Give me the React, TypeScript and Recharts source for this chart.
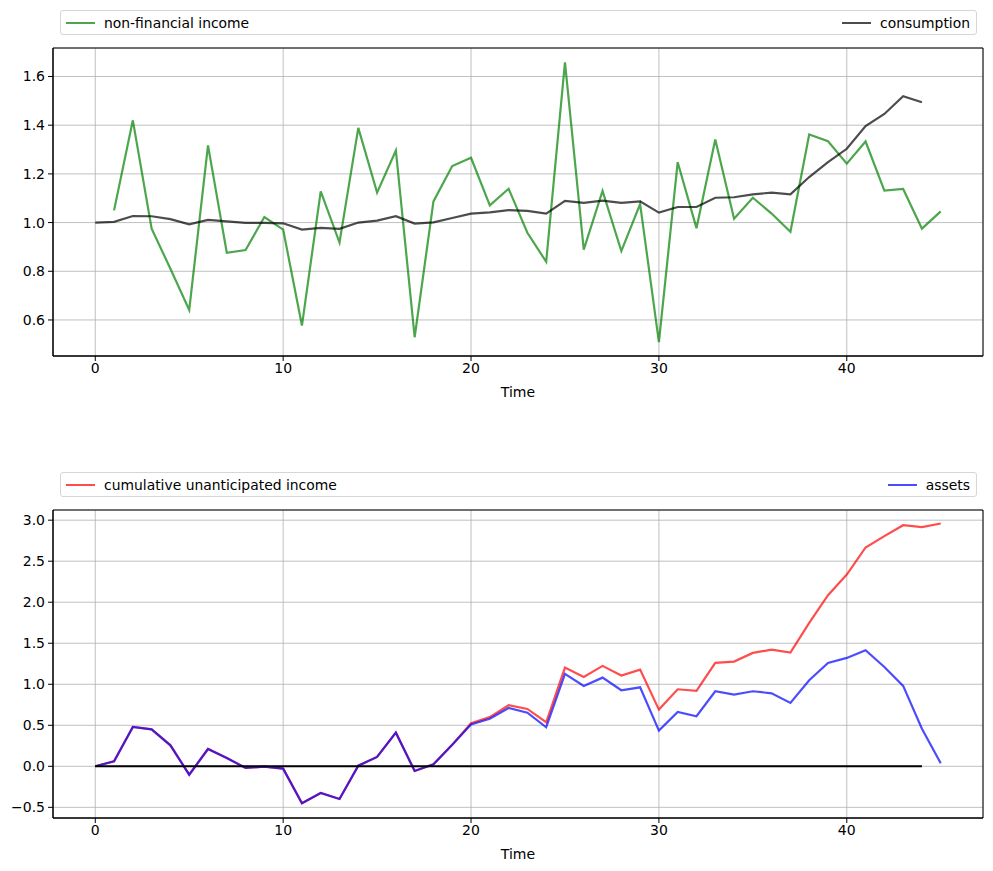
import { LineChart, Line, XAxis, YAxis, CartesianGrid, ReferenceArea } from "recharts";

const time = [
  0, 1, 2, 3, 4, 5, 6, 7, 8, 9, 10, 11, 12, 13, 14, 15, 16, 17, 18, 19, 20, 21, 22,
  23, 24, 25, 26, 27, 28, 29, 30, 31, 32, 33, 34, 35, 36, 37, 38, 39, 40, 41, 42, 43,
  44, 45,
];

const nonFinancialIncome = [
  null, 1.05, 1.42, 0.975, 0.81, 0.641, 1.317, 0.876, 0.887, 1.023, 0.971, 0.577,
  1.128, 0.918, 1.389, 1.123, 1.296, 0.529, 1.087, 1.232, 1.266, 1.071, 1.139, 0.958,
  0.839, 1.658, 0.889, 1.13, 0.883, 1.076, 0.509, 1.248, 0.977, 1.341, 1.016, 1.102,
  1.037, 0.962, 1.362, 1.334, 1.242, 1.333, 1.131, 1.138, 0.975, 1.046,
];

const consumption = [
  1.0, 1.003, 1.027, 1.026, 1.014, 0.993, 1.011, 1.005, 0.999, 0.999, 0.997, 0.971,
  0.978, 0.974, 1.0, 1.008, 1.026, 0.996, 1.001, 1.019, 1.037, 1.042, 1.051, 1.048,
  1.037, 1.089, 1.081, 1.09, 1.081, 1.087, 1.041, 1.064, 1.064, 1.102, 1.104, 1.116,
  1.123, 1.116, 1.187, 1.248, 1.303, 1.396, 1.446, 1.519, 1.494, null,
];

const cumulativeIncome = [
  0, 0.061, 0.48, 0.451, 0.256, -0.102, 0.211, 0.102, -0.02, -0.005, -0.028, -0.451,
  -0.325, -0.398, 0.008, 0.114, 0.41, -0.057, 0.024, 0.264, 0.524, 0.6, 0.744, 0.699,
  0.537, 1.203, 1.089, 1.224, 1.106, 1.179, 0.691, 0.939, 0.919, 1.26, 1.276, 1.382,
  1.423, 1.386, 1.748, 2.085, 2.337, 2.667, 2.805, 2.939, 2.915, 2.959,
];

const assets = [
  0, 0.061, 0.48, 0.451, 0.256, -0.102, 0.211, 0.102, -0.02, -0.005, -0.028, -0.451,
  -0.325, -0.398, 0.008, 0.114, 0.41, -0.057, 0.024, 0.264, 0.51, 0.58, 0.711, 0.654,
  0.476, 1.126, 0.98, 1.081, 0.927, 0.963, 0.435, 0.663, 0.61, 0.915, 0.874, 0.915,
  0.89, 0.772, 1.049, 1.26, 1.321, 1.415, 1.211, 0.98, 0.459, 0.037,
];

const zeroLine = [
  0, 0, 0, 0, 0, 0, 0, 0, 0, 0, 0, 0, 0, 0, 0, 0, 0, 0, 0, 0, 0, 0, 0, 0, 0, 0, 0, 0,
  0, 0, 0, 0, 0, 0, 0, 0, 0, 0, 0, 0, 0, 0, 0, 0, 0, null,
];

const xTicks = [0, 10, 20, 30, 40];
const xDomain: [number, number] = [-2.25, 47.25];
const topYTicks = [0.6, 0.8, 1.0, 1.2, 1.4, 1.6];
const bottomYTicks = [-0.5, 0, 0.5, 1.0, 1.5, 2.0, 2.5, 3.0];

const topData = time.map((t, i) => ({
  t,
  income: nonFinancialIncome[i],
  consumption: consumption[i],
}));

const bottomData = time.map((t, i) => ({
  t,
  cumulative: cumulativeIncome[i],
  assets: assets[i],
  zero: zeroLine[i],
}));

const FONT = "'DejaVu Sans', sans-serif";
const tickStyle = { fill: "#000", fontSize: 14, fontFamily: FONT };
const fmt = (v: number) => v.toFixed(1).replace("-", "\u2212");

type Item = { label: string; color: string };

const LegendBox = ({ left, right, top }: { left: Item; right: Item; top: number }) => {
  const entry = (it: Item) => (
    <div style={{ display: "flex", alignItems: "center" }}>
      <span
        style={{
          width: 29,
          height: 2,
          background: it.color,
          opacity: 0.7,
          marginRight: 9,
        }}
      />
      <span>{it.label}</span>
    </div>
  );
  return (
    <div
      style={{
        position: "absolute",
        left: 60,
        top,
        width: 917,
        height: 25,
        boxSizing: "border-box",
        border: "1px solid #d6d6d6",
        borderRadius: 3,
        background: "#fff",
        display: "flex",
        justifyContent: "space-between",
        alignItems: "center",
        padding: "0 6px 0 5px",
        fontFamily: FONT,
        fontSize: 13.9,
        color: "#000",
      }}
    >
      {entry(left)}
      {entry(right)}
    </div>
  );
};

const Frame = ({
  data,
  domain,
  yTicks,
  children,
}: {
  data: any[];
  domain: [number, number];
  yTicks: number[];
  children: React.ReactNode;
}) => (
  <LineChart
    width={993}
    height={400}
    data={data}
    margin={{ top: 48, right: 10, left: 3, bottom: 0 }}
  >
    <CartesianGrid stroke="#b0b0b0" strokeWidth={0.8} />
    <XAxis
      dataKey="t"
      type="number"
      domain={xDomain}
      ticks={xTicks}
      allowDataOverflow
      height={44}
      tickSize={5}
      tickMargin={2}
      stroke="#000"
      tick={tickStyle}
      label={{ value: "Time", position: "insideBottom", offset: 3, style: tickStyle }}
    />
    <YAxis
      type="number"
      domain={domain}
      ticks={yTicks}
      allowDataOverflow
      width={50}
      tickSize={5}
      tickMargin={3}
      stroke="#000"
      tick={tickStyle}
      tickFormatter={fmt}
    />
    {children}
    {/* box round the plot, like matplotlib's four spines */}
    <ReferenceArea
      x1={xDomain[0]}
      x2={xDomain[1]}
      y1={domain[0]}
      y2={domain[1]}
      fill="none"
      fillOpacity={0}
      stroke="#000"
      strokeWidth={1}
      ifOverflow="visible"
    />
  </LineChart>
);

const App = () => {
  return (
    <div
      style={{
        position: "absolute",
        left: 0,
        top: 0,
        width: 993,
        height: 871,
        background: "#fff",
      }}
    >
      <div style={{ position: "absolute", left: 0, top: 0 }}>
        <Frame data={topData} domain={[0.452, 1.717]} yTicks={topYTicks}>
          <Line
            dataKey="income"
            stroke="#008000"
            strokeOpacity={0.7}
            strokeWidth={2.2}
            dot={false}
            isAnimationActive={false}
          />
          <Line
            dataKey="consumption"
            stroke="#000000"
            strokeOpacity={0.7}
            strokeWidth={2.2}
            dot={false}
            isAnimationActive={false}
          />
        </Frame>
      </div>
      <LegendBox
        top={10}
        left={{ label: "non-financial income", color: "#008000" }}
        right={{ label: "consumption", color: "#000000" }}
      />
      <div style={{ position: "absolute", left: 0, top: 462 }}>
        <Frame data={bottomData} domain={[-0.63, 3.124]} yTicks={bottomYTicks}>
          <Line
            dataKey="cumulative"
            stroke="#ff0000"
            strokeOpacity={0.7}
            strokeWidth={2.2}
            dot={false}
            isAnimationActive={false}
          />
          <Line
            dataKey="assets"
            stroke="#0000ff"
            strokeOpacity={0.7}
            strokeWidth={2.2}
            dot={false}
            isAnimationActive={false}
          />
          <Line
            dataKey="zero"
            stroke="#000000"
            strokeWidth={2}
            dot={false}
            isAnimationActive={false}
          />
        </Frame>
      </div>
      <LegendBox
        top={472}
        left={{ label: "cumulative unanticipated income", color: "#ff0000" }}
        right={{ label: "assets", color: "#0000ff" }}
      />
    </div>
  );
};

export default App;
